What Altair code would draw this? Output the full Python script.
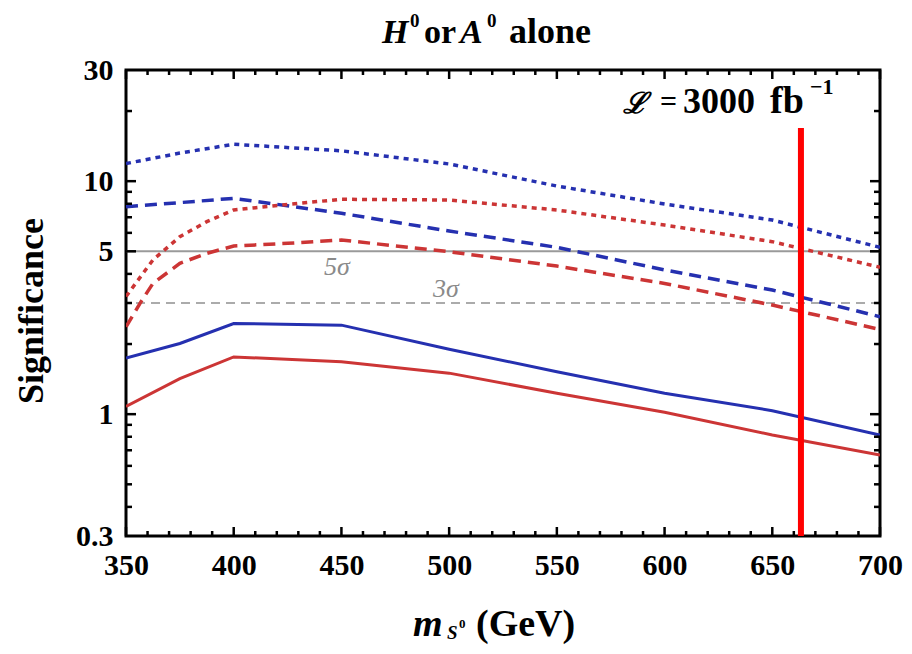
import altair as alt
import pandas as pd

# ---------------- data ----------------
x_blue_solid = [350, 375, 400, 450, 500, 550, 600, 650, 700]
y_blue_solid = [1.74, 2.01, 2.45, 2.41, 1.90, 1.52, 1.23, 1.035, 0.814]

x_red_solid = [350, 375, 400, 450, 500, 550, 600, 650, 700]
y_red_solid = [1.08, 1.42, 1.76, 1.68, 1.50, 1.23, 1.02, 0.814, 0.668]

x_blue_dash = [350, 375, 400, 450, 500, 550, 600, 650, 700]
y_blue_dash = [7.77, 8.09, 8.44, 7.28, 6.11, 5.20, 4.16, 3.41, 2.62]

x_red_dash = [350, 356.5, 362.5, 375, 387.5, 400, 425, 450, 500, 550, 600, 650, 700]
y_red_dash = [2.37, 2.99, 3.64, 4.44, 4.90, 5.27, 5.41, 5.59, 4.98, 4.32, 3.64, 2.94, 2.31]

x_blue_dot = [350, 375, 400, 450, 500, 550, 600, 650, 700]
y_blue_dot = [11.9, 13.2, 14.4, 13.5, 11.85, 9.53, 7.98, 6.81, 5.20]

x_red_dot = [350, 362.5, 375, 387.5, 400, 425, 450, 500, 550, 600, 650, 700]
y_red_dot = [3.2, 4.59, 5.78, 6.70, 7.52, 7.95, 8.36, 8.30, 7.52, 6.48, 5.50, 4.27]

sigma_levels_solid = [5]
sigma_levels_dash = [3]

cut_x = [663.3]
cut_top = [16.9]

x_tick_labels = [350, 400, 450, 500, 550, 600, 650, 700]
x_minor = [360, 370, 380, 390, 410, 420, 430, 440, 460, 470, 480, 490,
           510, 520, 530, 540, 560, 570, 580, 590, 610, 620, 630, 640,
           660, 670, 680, 690]
y_tick_labels = [0.3, 1, 5, 10, 30]
y_major = [1, 5, 10]
y_minor = [0.4, 0.5, 0.6, 0.7, 0.8, 0.9, 2, 3, 4, 6, 7, 8, 9, 20]

# ---------------- layout ----------------
W, H = 754, 466
FONT = "Liberation Serif"
BLUE = "#2530b0"
RED = "#cc3535"

X_SCALE = alt.Scale(domain=[350, 700], nice=False, zero=False)
Y_SCALE = alt.Scale(type="log", domain=[0.3, 30], nice=False)

AX_X = alt.Axis(values=x_tick_labels, format="d", labelFont=FONT, labelFontWeight="bold",
                labelFontSize=30, labelColor="black", labelPadding=14, tickSize=0,
                domain=False, grid=False, labelFlush=False, labelOverlap=False)
AX_Y = alt.Axis(values=y_tick_labels, format="~g", labelFont=FONT, labelFontWeight="bold",
                labelFontSize=30, labelColor="black", labelPadding=13, tickSize=0,
                domain=False, grid=False, labelFlush=False, labelOverlap=False)


def X(field="x"):
    return alt.X(f"{field}:Q", scale=X_SCALE, axis=AX_X, title="")


def Y(field="y"):
    return alt.Y(f"{field}:Q", scale=Y_SCALE, axis=AX_Y, title="")


def line(xs, ys, color, dash, width):
    d = pd.DataFrame({"x": xs, "y": ys})
    kw = dict(color=color, strokeWidth=width, clip=True)
    if dash:
        kw["strokeDash"] = dash
    return alt.Chart(d).mark_line(**kw).encode(x=X(), y=Y())


def yticks(vals, length, side):
    d = pd.DataFrame({"y": vals})
    if side == "left":
        xa, xb = 0, length
    else:
        xa, xb = W, W - length
    return alt.Chart(d).mark_rule(color="black", strokeWidth=2.5).encode(
        y=Y(), x=alt.value(xa), x2=alt.value(xb))


def xticks(vals, length, side):
    d = pd.DataFrame({"x": vals})
    if side == "top":
        ya, yb = 0, length
    else:
        ya, yb = H, H - length
    return alt.Chart(d).mark_rule(color="black", strokeWidth=2.5).encode(
        x=X(), y=alt.value(ya), y2=alt.value(yb))


def txt(s, x, y, size, style="normal", weight="bold", color="black",
        align="left", baseline="alphabetic", angle=0, font=FONT):
    d = pd.DataFrame({"t": [s]})
    return alt.Chart(d).mark_text(align=align, baseline=baseline, font=font,
                                  fontSize=size, fontStyle=style, fontWeight=weight,
                                  color=color, angle=angle).encode(
        x=alt.value(x), y=alt.value(y), text="t:N")


ref5 = alt.Chart(pd.DataFrame({"y": sigma_levels_solid})).mark_rule(
    color="#9a9a9a", strokeWidth=2).encode(y=Y())
ref3 = alt.Chart(pd.DataFrame({"y": sigma_levels_dash})).mark_rule(
    color="#ababab", strokeWidth=2, strokeDash=[9, 6]).encode(y=Y())

cut = alt.Chart(pd.DataFrame({"x": cut_x, "y": cut_top})).mark_rule(
    color="#ff0000", strokeWidth=6).encode(x=X(), y=Y(), y2=alt.value(H))

layers = [
    ref5, ref3,
    line(x_red_solid, y_red_solid, RED, None, 3),
    line(x_blue_solid, y_blue_solid, BLUE, None, 3),
    line(x_red_dash, y_red_dash, RED, [12, 7], 3.5),
    line(x_blue_dash, y_blue_dash, BLUE, [12, 7], 3.5),
    line(x_red_dot, y_red_dot, RED, [5, 5], 3.5),
    line(x_blue_dot, y_blue_dot, BLUE, [5, 5], 3.5),
    cut,
    yticks(y_major, 10, "left"), yticks(y_minor, 6, "left"),
    yticks(y_major, 10, "right"), yticks(y_minor, 6, "right"),
    xticks(x_tick_labels, 9, "top"), xticks(x_minor, 5, "top"),
    xticks(x_tick_labels, 9, "bottom"), xticks(x_minor, 5, "bottom"),
    # sigma labels
    txt("5σ", 198, 205, 26, style="italic", weight="normal", color="#8a8a8a"),
    txt("3σ", 307, 227, 26, style="italic", weight="normal", color="#8a8a8a"),
    # luminosity
    txt("ℒ", 497, 43, 29, style="italic",
        font="Liberation Serif, DejaVu Serif, serif"),
    txt("=", 534, 41, 30),
    txt("3000", 557, 43, 36),
    txt("fb", 644, 43, 38),
    txt("−1", 684, 24, 22),
    # title
    txt("H", 256, -27, 34, style="italic"),
    txt("0", 284, -43, 19),
    txt("or", 298, -27, 34),
    txt("A", 334, -27, 34, style="italic"),
    txt("0", 361, -43, 19),
    txt("alone", 383, -27, 36),
    # axis titles
    txt("Significance", -94, 241, 36, align="center", baseline="middle", angle=270),
    txt("m", 287, 566, 38, style="italic"),
    txt("S", 321, 569, 19, style="italic"),
    txt("0", 333, 558, 13),
    txt("(GeV)", 350, 566, 38),
]

chart = alt.layer(*layers).properties(
    width=W, height=H,
    padding={"left": 118, "top": 62, "right": 24, "bottom": 110},
    autosize=alt.AutoSizeParams(type="none"),
    background="white",
).configure_view(stroke="black", strokeWidth=3)

chart.save("out.html", embed_options={"renderer": "svg", "actions": False})
